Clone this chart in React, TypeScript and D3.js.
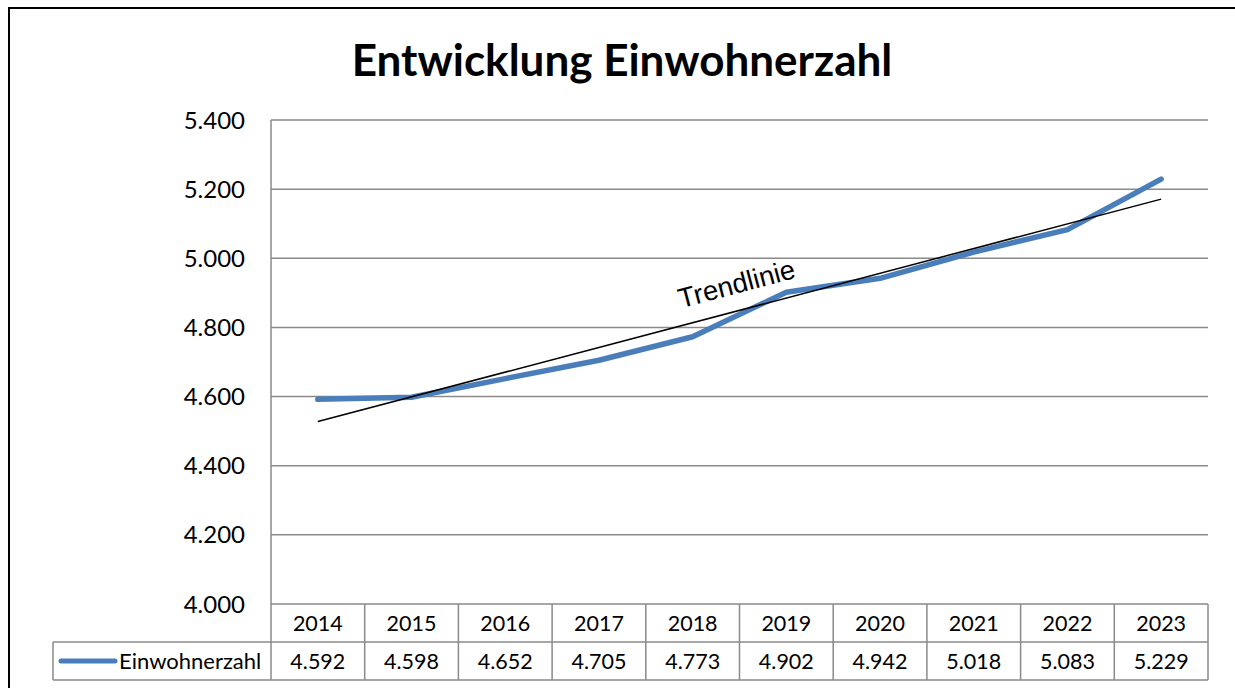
import React from 'react';
import * as d3 from 'd3';

const years = ['2014', '2015', '2016', '2017', '2018', '2019', '2020', '2021', '2022', '2023'];
const einwohner = [4592, 4598, 4652, 4705, 4773, 4902, 4942, 5018, 5083, 5229];
const y_ticks = [4000, 4200, 4400, 4600, 4800, 5000, 5200, 5400];
const series_name = 'Einwohnerzahl';
const title = 'Entwicklung Einwohnerzahl';
const trend_label = 'Trendlinie';

const W = 1235;
const H = 688;
const font = 'Lato, "Open Sans", sans-serif';
const grid_color = '#8a8a8a';
const blue = '#4a7ebb';

const fmt = (v: number) => d3.format(',')(v).replace(/,/g, '.');

export default function App() {
    const plot = { left: 271, right: 1208, top: 120, bottom: 604 };
    const row_h = 38;
    const legend_left = 53;

    const x = d3.scaleBand<string>(years, [plot.left, plot.right]);
    const cx = (i: number) => (x(years[i]) as number) + x.bandwidth() / 2;
    const y = d3.scaleLinear([4000, 5400], [plot.bottom, plot.top]);

    const line = d3
        .line<number>()
        .x((_, i) => cx(i))
        .y((d) => y(d));

    // linear trend (least squares)
    const xs = einwohner.map((_, i) => i);
    const mx = d3.mean(xs) as number;
    const my = d3.mean(einwohner) as number;
    const slope =
        (d3.sum(xs, (xi, i) => (xi - mx) * (einwohner[i] - my)) as number) /
        (d3.sum(xs, (xi) => (xi - mx) ** 2) as number);
    const trend = (i: number) => my + slope * (i - mx);
    const trend_pts: [number, number][] = [0, years.length - 1].map((i) => [cx(i), y(trend(i))]);
    const angle = (Math.atan2(trend_pts[1][1] - trend_pts[0][1], trend_pts[1][0] - trend_pts[0][0]) * 180) / Math.PI;

    const row1 = plot.bottom;
    const row2 = plot.bottom + row_h;
    const row3 = row2 + row_h;

    return (
        <svg width={W} height={H} style={{ position: 'absolute', left: 0, top: 0, background: '#fff' }}>
            <rect x={9} y={8} width={W + 10} height={H + 10} fill="#fff" stroke="#000" strokeWidth={2} />

            <text x={622} y={76} textAnchor="middle" fontFamily={font} fontWeight="bold" fontSize={44}>
                {title}
            </text>

            {/* gridlines + y labels */}
            {y_ticks.map((t) => (
                <g key={t}>
                    <line x1={plot.left} x2={plot.right} y1={y(t)} y2={y(t)} stroke={grid_color} strokeWidth={1.5} />
                    <text x={245} y={y(t)} dy="0.36em" textAnchor="end" fontFamily={font} fontSize={24}>
                        {fmt(t)}
                    </text>
                </g>
            ))}
            <line x1={plot.left} x2={plot.left} y1={plot.top} y2={row3} stroke={grid_color} strokeWidth={1.5} />

            {/* data table */}
            <line x1={legend_left} x2={plot.right} y1={row2} y2={row2} stroke={grid_color} strokeWidth={1.5} />
            <line x1={legend_left} x2={plot.right} y1={row3} y2={row3} stroke={grid_color} strokeWidth={1.5} />
            <line x1={legend_left} x2={legend_left} y1={row2} y2={row3} stroke={grid_color} strokeWidth={1.5} />
            {years.map((yr, i) => (
                <g key={yr}>
                    <line
                        x1={(x(yr) as number) + x.bandwidth()}
                        x2={(x(yr) as number) + x.bandwidth()}
                        y1={row1}
                        y2={row3}
                        stroke={grid_color}
                        strokeWidth={1.5}
                    />
                    <text x={cx(i)} y={row1 + row_h / 2} dy="0.36em" textAnchor="middle" fontFamily={font} fontSize={21.5}>
                        {yr}
                    </text>
                    <text x={cx(i)} y={row2 + row_h / 2} dy="0.36em" textAnchor="middle" fontFamily={font} fontSize={21.5}>
                        {fmt(einwohner[i])}
                    </text>
                </g>
            ))}
            <line x1={61} x2={115} y1={row2 + row_h / 2} y2={row2 + row_h / 2} stroke={blue} strokeWidth={5} strokeLinecap="round" />
            <text x={119} y={row2 + row_h / 2} dy="0.36em" fontFamily={font} fontSize={22}>
                {series_name}
            </text>

            {/* series line */}
            <path d={line(einwohner) as string} fill="none" stroke={blue} strokeWidth={5.5} strokeLinecap="round" strokeLinejoin="round" />

            {/* trend line */}
            <line
                x1={trend_pts[0][0]}
                y1={trend_pts[0][1]}
                x2={trend_pts[1][0]}
                y2={trend_pts[1][1]}
                stroke="#000"
                strokeWidth={1.5}
            />
            <text
                transform={`translate(739,${y(trend(4.6)) - 15}) rotate(${angle})`}
                textAnchor="middle"
                fontFamily='"Liberation Sans", Arial, sans-serif'
                fontSize={27.5}
            >
                {trend_label}
            </text>
        </svg>
    );
}
